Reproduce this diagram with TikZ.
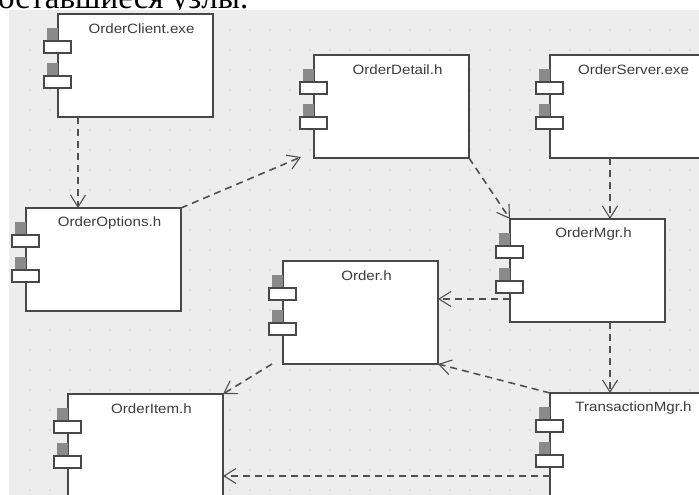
\documentclass[tikz,border=0pt]{standalone}
\usepackage{fontspec}
\usetikzlibrary{arrows.meta,calc}
\newfontfamily\lblfont[FakeStretch=1.12]{Liberation Sans}
\newfontfamily\rufont{Liberation Serif}
\definecolor{bgc}{HTML}{EDEDED}
\definecolor{dotc}{HTML}{D0D0D0}
\definecolor{boxc}{HTML}{484848}
\definecolor{txtc}{HTML}{3C3C3C}
\definecolor{arrc}{HTML}{505050}
\definecolor{markc}{HTML}{8A8A8A}
\tikzset{
  comp/.style={draw=boxc, fill=white, line width=1.5pt, minimum width=155pt,
    minimum height=103pt, inner sep=0pt, outer sep=0pt, anchor=north west},
  lbl/.style={font=\lblfont\fontsize{13.5}{14}\selectfont, text=txtc, inner sep=0pt},
  portbox/.style={draw=boxc, fill=white, line width=1.1pt},
  portmark/.style={fill=markc},
  dep/.style={draw=arrc, line width=1.6pt, dash pattern=on 7pt off 5pt,
    -{Straight Barb[length=12pt,width=15pt,line width=1.1pt]}},
}
\newcommand\myports[1]{%
  \fill[portmark] ($(#1.north west)+(-11,14)$) rectangle ++(11,13);
  \draw[portbox] ($(#1.north west)+(-14,27)$) rectangle ++(27,12);
  \fill[portmark] ($(#1.north west)+(-11,49)$) rectangle ++(11,13);
  \draw[portbox] ($(#1.north west)+(-14,62)$) rectangle ++(27,12);
}
\begin{document}
\begin{tikzpicture}[x=1pt,y=-1pt]
\useasboundingbox (0,0) rectangle (699,495);
% cut-off line of the page text
\node[anchor=base west, inner sep=0pt, font=\rufont\fontsize{33}{33}\selectfont] (title) at (-2,8.5) {оставшиеся узлы.};
% diagram background
\fill[bgc] (9,10) rectangle (699,495);
\foreach \x in {30,50,...,690} \foreach \y in {30,50,...,490} \fill[dotc] (\x,\y) circle (0.8pt);
% components
\node[comp] (client)  at (58,14)  {};
\node[comp] (detail)  at (314,55) {};
\node[comp] (server)  at (550,55) {};
\node[comp] (options) at (26,208) {};
\node[comp] (order)   at (283,261) {};
\node[comp] (mgr)     at (510,219) {};
\node[comp] (item)    at (68,394) {};
\node[comp] (trans)   at (550,393) {};
\foreach \n in {client,detail,server,options,order,mgr,item,trans} {\myports{\n}}
% labels
\node[lbl] (client-t)  at ($(client.north)+(6,15)$)  {OrderClient.exe};
\node[lbl] (detail-t)  at ($(detail.north)+(6,15)$)  {OrderDetail.h};
\node[lbl] (server-t)  at ($(server.north)+(6,15)$)  {OrderServer.exe};
\node[lbl] (options-t) at ($(options.north)+(6,15)$) {OrderOptions.h};
\node[lbl] (order-t)   at ($(order.north)+(6,15)$)   {Order.h};
\node[lbl] (mgr-t)     at ($(mgr.north)+(6,15)$)     {OrderMgr.h};
\node[lbl] (item-t)    at ($(item.north)+(6,15)$)    {OrderItem.h};
\node[lbl] (trans-t)   at ($(trans.north)+(6,15)$)   {TransactionMgr.h};
% dependencies
\draw[dep] ($(client.south west)+(20,0)$) -- ($(options.north west)+(52,0)$);
\draw[dep] (options.north east) -- ($(detail.south west)+(-13,-1)$);
\draw[dep] (detail.south east) -- (mgr.north west);
\draw[dep] ($(server.south west)+(60,0)$) -- ($(mgr.north west)+(100,0)$);
\draw[dep] ($(mgr.north west)+(0,80)$) -- ($(order.north east)+(0,38)$);
\draw[dep] ($(mgr.south west)+(100,0)$) -- ($(trans.north west)+(60,0)$);
\draw[dep] (trans.north west) -- (order.south east);
\draw[dep] ($(order.south west)+(-11,0)$) -- (item.north east);
\draw[dep] ($(trans.north west)+(0,83)$) -- ($(item.north east)+(0,82)$);
\end{tikzpicture}
\end{document}
